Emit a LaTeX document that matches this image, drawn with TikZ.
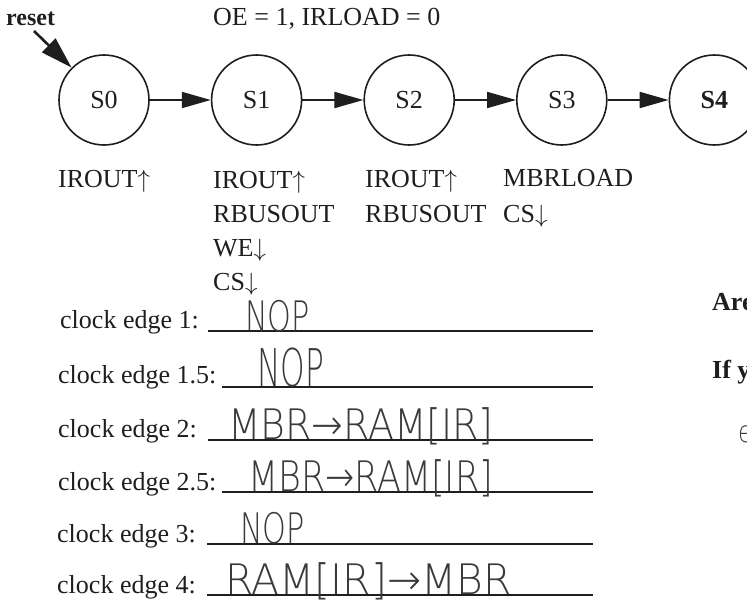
\documentclass[tikz,border=0pt]{standalone}
\usepackage{fontspec}
\setmainfont{Liberation Serif}
\newfontfamily\handfont{DejaVu Sans ExtraLight}
\usetikzlibrary{arrows.meta,positioning}
\definecolor{printblack}{HTML}{1E1E1E}
\definecolor{inkgray}{HTML}{3A3A3A}
\newcommand{\hw}[2]{\scalebox{#1}[1]{\handfont #2}}
\newcommand{\up}{$\uparrow$}
\newcommand{\dn}{$\downarrow$}

\begin{document}
\begin{tikzpicture}[
  x=1pt,y=-1pt,
  every node/.style={font=\fontsize{26}{30}\selectfont,text=printblack,inner sep=0pt},
  state/.style={circle,draw=printblack,line width=1.6pt,minimum size=90pt},
  trans/.style={-{Triangle[length=29pt,width=16pt]},line width=2pt,draw=printblack},
  sig/.style={anchor=base west},
  ask/.style={anchor=base west,font=\fontsize{26}{30}\selectfont\bfseries},
  hand/.style={anchor=base west,text=inkgray,font=\fontsize{42}{44}\selectfont},
  rule/.style={line width=1.8pt,draw=printblack}
]
\useasboundingbox (0,0) rectangle (747,605);

% state chain
\node[state] (s0) at (104,100) {S0};
\node[state,right=61pt of s0] (s1) {S1};
\node[state,right=61pt of s1] (s2) {S2};
\node[state,right=61pt of s2] (s3) {S3};
\node[state,right=61pt of s3,font=\fontsize{26}{30}\selectfont\bfseries] (s4) {S4};

\node[ask,font=\fontsize{24}{28}\selectfont\bfseries] (reset) at (6,25) {reset};
\coordinate (rst) at (34,31);
\node[sig] (outs) at (213,25) {OE = 1, IRLOAD = 0};

\draw[trans,line width=2.6pt,-{Triangle[length=32pt,width=19pt]}] (rst) -- (s0.135);
\draw[trans] (s0) -- (s1);
\draw[trans] (s1) -- (s2);
\draw[trans] (s2) -- (s3);
\draw[trans] (s3) -- (s4);

% signals per state
\node[sig] (s0a) at (58,187) {IROUT\up};
\node[sig] (s1a) at (213,188) {IROUT\up};
\node[sig] (s1b) at (213,222) {RBUSOUT};
\node[sig] (s1c) at (213,256) {WE\dn};
\node[sig] (s1d) at (213,290) {CS\dn};
\node[sig] (s2a) at (365,187) {IROUT\up};
\node[sig] (s2b) at (365,222) {RBUSOUT};
\node[sig] (s3a) at (503,186) {MBRLOAD};
\node[sig] (s3b) at (503,222) {CS\dn};

% clock edges
\node[sig] (e1) at (60,328) {clock edge 1:};
\node[sig] (e15) at (58,383) {clock edge 1.5:};
\node[sig] (e2) at (58,437) {clock edge 2:};
\node[sig] (e25) at (58,490) {clock edge 2.5:};
\node[sig] (e3) at (57,542) {clock edge 3:};
\node[sig] (e4) at (57,593) {clock edge 4:};

\draw[rule] (208,331) -- (593,331);
\draw[rule] (222,387) -- (593,387);
\draw[rule] (208,440) -- (593,440);
\draw[rule] (222,492) -- (593,492);
\draw[rule] (207,544) -- (593,544);
\draw[rule] (207,595) -- (593,595);

\node[hand] (h1) at (245,331) {\hw{0.72}{NOP}};
\node[hand,font=\fontsize{52}{54}\selectfont] (h15) at (257,386) {\hw{0.6}{NOP}};
\node[hand] (h2) at (228,439) {\hw{0.9}{MBR→RAM[IR]}};
\node[hand] (h25) at (248,491) {\hw{0.83}{MBR→RAM[IR]}};
\node[hand] (h3) at (240,543) {\hw{0.72}{NOP}};
\node[hand] (h4) at (225,594) {\hw{0.97}{RAM[IR]→MBR}};

% questions at the page edge
\node[ask] (q1) at (712,310) {Are};
\node[ask] (q2) at (712,378) {If y};
\node[hand,font=\fontsize{30}{32}\selectfont] (q3) at (738,442) {\hw{0.8}{e}};
\end{tikzpicture}
\end{document}
